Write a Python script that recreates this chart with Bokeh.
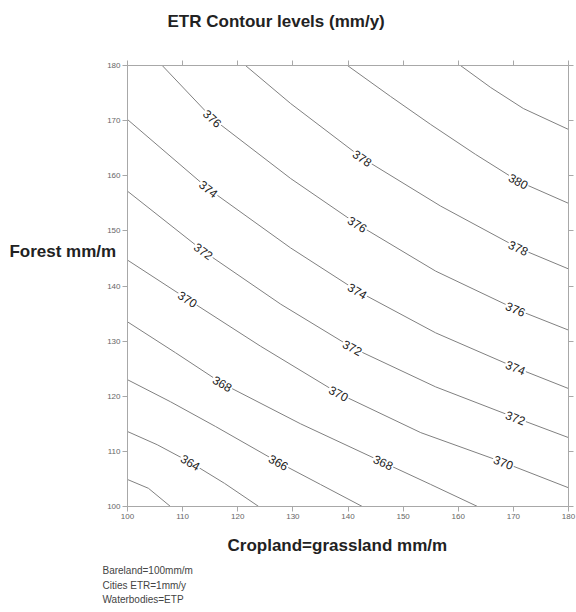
import numpy as np
from bokeh.plotting import figure
from bokeh.models import LinearAxis, ColumnDataSource, FixedTicker, Title
from bokeh.core.properties import value
from bokeh.embed import file_html
from bokeh.resources import INLINE

# ---- data: contour lines (cropland mm/m, forest mm/m) ----
levels = [362, 364, 366, 368, 370, 372, 374, 376, 378, 380, 382]

c362 = [100, 103.8, 107.8]
f362 = [104.9, 103.3, 100]
c364 = [100, 105.4, 111.4, 117.6, 123.8]
f364 = [113.6, 111.2, 108.0, 104.2, 100]
c366 = [100, 107.8, 116.0, 127.4, 135.0, 142.6]
f366 = [123.0, 119.0, 114.5, 108.0, 104.0, 100]
c368 = [100, 108.7, 117.2, 131.4, 146.4, 155.0, 163.5]
f368 = [133.5, 127.9, 122.3, 115.0, 108.0, 104.0, 100]
c370 = [100, 110.9, 124.1, 138.3, 153.2, 168.2, 180]
f370 = [144.7, 137.6, 129.1, 120.5, 113.4, 108.0, 103.4]
c372 = [100, 113.8, 127.8, 140.8, 155.9, 170.4, 180]
f372 = [157.2, 146.3, 136.7, 128.8, 121.7, 116.1, 112.5]
c374 = [100, 114.7, 129.6, 141.7, 155.9, 170.4, 180]
f374 = [170.2, 157.6, 146.9, 139.1, 131.5, 125.2, 121.4]
c376 = [106.3, 115.4, 129.6, 141.7, 155.9, 170.4, 180]
f376 = [180, 170.4, 159.5, 151.2, 142.7, 135.8, 132.0]
c378 = [121.4, 129.6, 142.6, 156.8, 170.9, 180]
f378 = [180, 173.1, 163.2, 154.5, 146.9, 143.1]
c380 = [139.9, 147.7, 155.0, 163.1, 170.9, 180]
f380 = [180, 174.4, 169.3, 163.9, 159.0, 155.0]
c382 = [160.4, 165.9, 171.8, 180]
f382 = [180, 176.0, 172.2, 168.4]

crop_lines = [c362, c364, c366, c368, c370, c372, c374, c376, c378, c380, c382]
forest_lines = [f362, f364, f366, f368, f370, f372, f374, f376, f378, f380, f382]

# contour labels: which level, and at which cropland value along that line
label_level = [376, 374, 372, 370, 368, 364, 366,
               378, 376, 374, 372, 370, 368,
               380, 378, 376, 374, 372, 370]
label_crop = [115.4, 114.7, 113.8, 110.9, 117.2, 111.4, 127.4,
              142.6, 141.7, 141.7, 140.8, 138.3, 146.4,
              170.9, 170.9, 170.4, 170.4, 170.4, 168.2]

ticks = [100, 110, 120, 130, 140, 150, 160, 170, 180]
notes = ["Bareland=100mm/m", "Cities ETR=1mm/y", "Waterbodies=ETP"]

FONT = "Liberation Sans"
AXC = "#a8a8a8"

p = figure(width=576, height=612, x_range=(100, 180), y_range=(100, 180),
           output_backend="svg", toolbar_location=None,
           min_border_left=127, min_border_right=8, min_border_top=65,
           min_border_bottom=106, x_axis_location=None, y_axis_location=None)
p.xgrid.visible = False
p.ygrid.visible = False
p.outline_line_color = AXC
p.background_fill_color = "white"
p.border_fill_color = "white"


def style_axis(ax, show_labels):
    ax.ticker = FixedTicker(ticks=ticks)
    ax.axis_line_color = AXC
    ax.major_tick_line_color = AXC
    ax.major_tick_out = 5
    ax.major_tick_in = 0
    ax.minor_tick_line_color = None
    ax.major_label_text_font = FONT
    ax.major_label_text_color = "#666666"
    ax.major_label_standoff = 2
    ax.major_label_text_font_size = "8px"
    if not show_labels:
        ax.major_label_overrides = {t: "" for t in ticks}
        ax.major_label_standoff = 0


axes = {}
for loc, show in (("below", True), ("left", True), ("above", False), ("right", False)):
    ax = LinearAxis()
    style_axis(ax, show)
    p.add_layout(ax, loc)
    axes[loc] = ax

# y-axis title: horizontal, lifted above the frame's middle by empty lines below it
ly_ax = axes["left"]
ly_ax.axis_label = "Forest mm/m\n\u00a0\n\u00a0\n\u00a0"
ly_ax.axis_label_orientation = "horizontal"
ly_ax.axis_label_text_font = FONT
ly_ax.axis_label_text_font_size = "17px"
ly_ax.axis_label_text_font_style = "bold"
ly_ax.axis_label_text_color = "#222222"
ly_ax.axis_label_standoff = -12

src = ColumnDataSource(dict(xs=crop_lines, ys=forest_lines, lev=levels))
p.multi_line("xs", "ys", source=src, line_color="#808080", line_width=1)

# label positions / angles derived from the contour lines
lx, ly, la, lt = [], [], [], []
for lev, c in zip(label_level, label_crop):
    i = levels.index(lev)
    cs = np.array(crop_lines[i], float)
    fs = np.array(forest_lines[i], float)
    f = float(np.interp(c, cs, fs))
    c0, c1 = max(c - 3, cs[0]), min(c + 3, cs[-1])
    df = np.interp(c1, cs, fs) - np.interp(c0, cs, fs)
    ang = float(np.arctan2(df, c1 - c0))
    lx.append(c); ly.append(f); la.append(ang); lt.append(str(lev))

lsrc = ColumnDataSource(dict(x=lx, y=ly, a=la, t=lt))
p.text("x", "y", text="t", angle="a", source=lsrc, text_font=value(FONT),
       text_font_size="12px", text_color="#222222", text_align="center",
       text_baseline="middle", background_fill_color="white", padding=1)

# main title (a blank second line lifts it towards the top edge)
p.title.text = "ETR Contour levels (mm/y)\n\u00a0"
p.title.align = "left"
p.title.vertical_align = "top"
p.title.offset = 40
p.title.text_font = FONT
p.title.text_font_size = "17px"
p.title.text_font_style = "bold"
p.title.text_color = "#222222"
p.title.standoff = 18

# x label and notes as titles below the plot
p.add_layout(Title(text="Cropland=grassland mm/m", align="left", offset=100,
                   text_font=FONT, text_font_size="17px", text_font_style="bold",
                   text_color="#222222", standoff=25), "below")
for t, so in zip(notes, [-9, 13, -11]):
    p.add_layout(Title(text=t, align="left", offset=-25, text_font=FONT,
                       text_font_size="10px", text_font_style="normal",
                       text_color="#444444", standoff=so), "below")

open("out.html", "w").write(file_html(p, INLINE))
